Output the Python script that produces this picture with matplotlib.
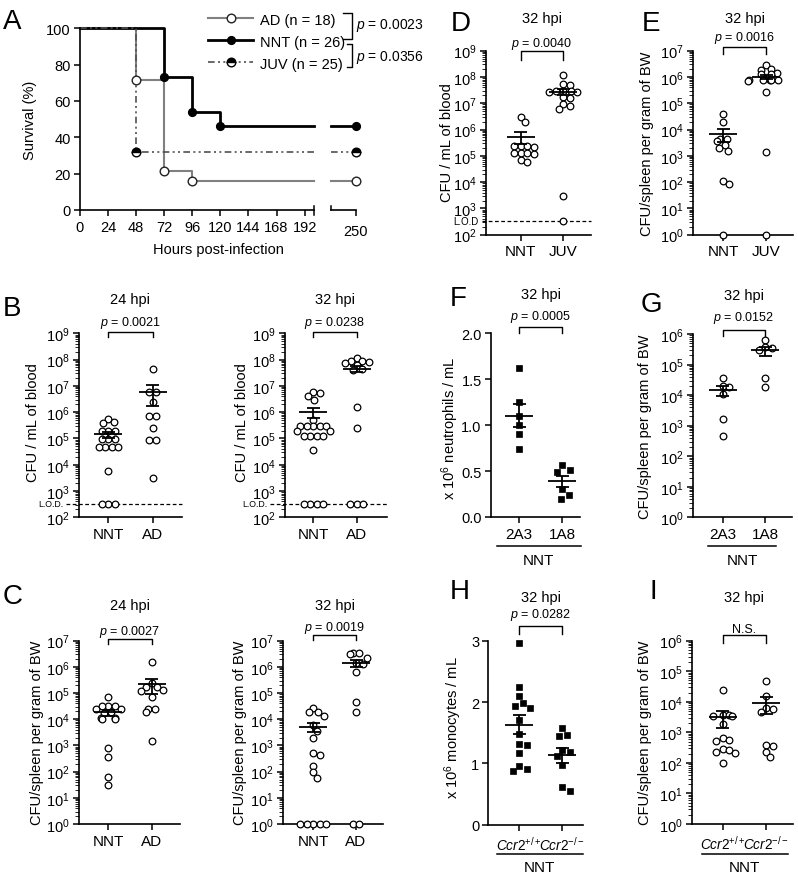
import numpy as np
import matplotlib
matplotlib.use('Agg')
import matplotlib.pyplot as plt
from matplotlib.transforms import blended_transform_factory, Affine2D
from matplotlib.lines import Line2D
from matplotlib.ticker import FixedLocator, FuncFormatter, LogLocator, NullFormatter

plt.rcParams['font.family'] = ['Liberation Sans', 'DejaVu Sans']
plt.rcParams['mathtext.fontset'] = 'custom'
plt.rcParams['mathtext.rm'] = 'Liberation Sans'
plt.rcParams['mathtext.it'] = 'Liberation Sans:italic'
plt.rcParams['mathtext.bf'] = 'Liberation Sans:bold'
plt.rcParams['mathtext.default'] = 'regular'

# ------------------------------------------------------------------ data
# Panel A : Kaplan-Meier survival (%)
surv_labels = ['AD (n = 18)', 'NNT (n = 26)', 'JUV (n = 25)']
surv_t_AD = [0, 48, 72, 96]
surv_AD = [100, 71.4, 21.4, 15.9]
surv_t_NNT = [0, 72, 96, 120]
surv_NNT = [100, 73.1, 53.8, 46.2]
surv_t_JUV = [0, 48]
surv_JUV = [100, 32.0]
surv_end = 250
surv_xticks = [0, 24, 48, 72, 96, 120, 144, 168, 192]
surv_yticks = [0, 20, 40, 60, 80, 100]
surv_p = ['0.0023', '0.0356']

LOD_EXP = 2.52  # log10 of limit of detection (CFU/mL)

# log10 CFU values (B, C, D, E, G, I); 0 = no CFU recovered (plotted at 10^0)
B24_NNT = [5.75, 5.61, 5.60, 5.28, 5.28, 5.28, 4.99, 4.99, 4.99, 4.66, 4.66,
           4.66, 4.66, 3.77, LOD_EXP, LOD_EXP, LOD_EXP]
B24_AD = [7.65, 6.78, 6.78, 6.38, 5.87, 5.87, 5.40, 4.95, 4.95, 3.48]
B32_NNT = [6.76, 6.73, 6.61, 6.47, 5.72, 5.49, 5.49, 5.49, 5.49, 5.49, 5.28,
           5.28, 5.09, 5.09, 5.09, 5.09, 4.57, LOD_EXP, LOD_EXP, LOD_EXP, LOD_EXP]
B32_AD = [8.06, 7.94, 7.94, 7.90, 7.86, 7.80, 7.65, 7.60, 6.19, 5.40,
          LOD_EXP, LOD_EXP, LOD_EXP]
C24_NNT = [4.86, 4.49, 4.49, 4.49, 4.40, 4.38, 4.26, 4.22, 4.04, 4.04, 4.00,
           4.00, 2.89, 2.57, 1.78, 1.50]
C24_AD = [6.17, 5.37, 5.22, 5.22, 5.12, 5.09, 4.84, 4.39, 4.39, 4.29, 3.18]
C32_NNT = [4.43, 4.26, 4.26, 4.14, 3.78, 3.56, 3.27, 2.71, 2.65, 2.23, 1.97,
           1.75, 0, 0, 0, 0, 0]
C32_AD = [6.53, 6.53, 6.49, 6.34, 6.15, 6.11, 5.82, 4.67, 4.29, 0, 0]
D_NNT = [6.47, 6.28, 5.38, 5.36, 5.36, 5.34, 5.12, 5.10, 5.10, 5.08, 4.86, 4.78]
D_JUV = [8.07, 7.73, 7.69, 7.47, 7.45, 7.45, 7.42, 7.42, 7.22, 7.20, 6.97,
         6.90, 6.80, 3.47, LOD_EXP]
E_NNT = [4.59, 4.30, 3.64, 3.64, 3.58, 3.40, 3.30, 3.18, 2.03, 1.93, 0]
E_JUV = [6.45, 6.30, 6.28, 6.15, 6.11, 6.11, 5.90, 5.90, 5.88, 5.88, 5.88,
         5.86, 5.42, 3.16, 0]
G_2A3 = [4.57, 4.31, 4.25, 4.04, 3.22, 2.65]
G_1A8 = [5.81, 5.59, 5.55, 5.49, 4.56, 4.28]
I_WT = [4.39, 3.58, 3.56, 3.55, 3.55, 3.28, 2.80, 2.75, 2.72, 2.45, 2.42,
        2.37, 2.33, 2.00]
I_KO = [4.67, 4.20, 3.80, 3.75, 3.68, 2.60, 2.55, 2.37, 2.20]
# linear values (x 10^6 cells / mL)
F_2A3 = [1.62, 1.25, 1.10, 1.00, 0.90, 0.74]
F_1A8 = [0.57, 0.515, 0.49, 0.31, 0.24, 0.196]
H_WT = [2.96, 2.24, 2.10, 1.98, 1.93, 1.91, 1.71, 1.48, 1.32, 1.30, 1.17,
        0.96, 0.91, 0.88]
H_KO = [1.58, 1.47, 1.45, 1.22, 1.18, 1.12, 0.98, 0.61, 0.55]

cats_NNT_AD = ['NNT', 'AD']
cats_NNT_JUV = ['NNT', 'JUV']
cats_ab = ['2A3', '1A8']
cats_ccr2 = [r'$\mathit{Ccr2^{+/+}}$', r'$\mathit{Ccr2^{-/-}}$']

# ------------------------------------------------------------------ figure
W, H = 798, 878
DPI = 100
fig = plt.figure(figsize=(W / DPI, H / DPI), dpi=DPI)
PX = Affine2D().scale(1, -1).translate(0, H)   # figure pixels (y from top)


def T_dpx(ax):
    return blended_transform_factory(ax.transData, PX)


def T_pxd(ax):
    return blended_transform_factory(PX, ax.transData)


def ftext(x, y, s, **kw):
    return fig.text(x / W, 1 - y / H, s, **kw)


def fline(xs, ys, **kw):
    fig.add_artist(Line2D(np.array(xs) / W, 1 - np.array(ys) / H,
                          transform=fig.transFigure, **kw))


def add_ax(left, right, top, bottom):
    return fig.add_axes([left / W, 1 - bottom / H, (right - left) / W, (bottom - top) / H])


def style(ax):
    for s in ['top', 'right']:
        ax.spines[s].set_visible(False)
    for s in ['left', 'bottom']:
        ax.spines[s].set_linewidth(1.2)
    ax.tick_params(axis='both', which='major', length=4, width=1.1,
                   labelsize=10.5, pad=2.5, direction='out')
    ax.tick_params(axis='y', which='minor', length=2.8, width=0.6)
    ax.patch.set_visible(False)


def swarm(ax, center, vals, mind):
    vals = np.asarray(vals, float)
    pts = ax.transData.transform(np.column_stack([np.full(len(vals), center), vals]))
    ys = pts[:, 1]
    ppu = ax.transData.transform((center + 1, vals[0]))[0] - pts[0, 0]
    order = np.argsort(-ys, kind='stable')
    cand = [0.0]
    for k in range(1, 400):
        cand += [k * 0.25, -k * 0.25]
    placed = []
    offs = np.zeros(len(vals))
    for i in order:
        for c in cand:
            if all((c - po) ** 2 + (ys[i] - py) ** 2 >= mind ** 2 for po, py in placed):
                offs[i] = c
                break
        placed.append((offs[i], ys[i]))
    # recentre rows of identical values
    for v in np.unique(vals):
        m = vals == v
        if m.sum() > 1:
            offs[m] -= offs[m].mean()
    return center + offs / ppu


def scatter_panel(box, cats, log, ylim, groups, labels, marker, title, title_y,
                  ptxt, p_y, br, ylabel, ylab_xy, mind=6.5, ms=4.8, filled=False,
                  lod=None, yticks=None, yfmt=None, under=None, xlab_fs=11):
    left, right, top, bottom = box
    c1, c2 = cats
    sp = c2 - c1
    ax = add_ax(left, right, top, bottom)
    style(ax)
    ax.set_xlim(1 - (c1 - left) / sp, 2 + (right - c2) / sp)
    if log:
        ax.set_yscale('log')
        ax.set_ylim(10.0 ** ylim[0], 10.0 ** ylim[1])
        ax.yaxis.set_major_locator(FixedLocator(10.0 ** np.arange(ylim[0], ylim[1] + 1)))
        ax.yaxis.set_major_formatter(FuncFormatter(
            lambda v, p: r'$10^{%d}$' % int(round(np.log10(v)))))
        ax.yaxis.set_minor_locator(LogLocator(base=10, subs=np.arange(2, 10), numticks=100))
        ax.yaxis.set_minor_formatter(NullFormatter())
    else:
        ax.set_ylim(*ylim)
        ax.set_yticks(yticks)
        ax.yaxis.set_major_formatter(FuncFormatter(yfmt))
    ax.set_xticks([1, 2])
    ax.set_xticklabels(labels, fontsize=xlab_fs)
    ax.tick_params(axis='x', pad=3)
    for k, g in enumerate(groups):
        vals = 10.0 ** np.asarray(g) if log else np.asarray(g, float)
        xs = swarm(ax, k + 1, vals, mind)
        if filled:
            ax.plot(xs, vals, ls='none', marker=marker, ms=ms, mfc='k', mec='k',
                    mew=0.5, clip_on=False, zorder=3)
        else:
            ax.plot(xs, vals, ls='none', marker=marker, ms=ms, mfc='white', mec='k',
                    mew=0.9, clip_on=False, zorder=3)
        m = vals.mean()
        s = vals.std(ddof=1) / np.sqrt(len(vals))
        hm, hc = 14.0 / sp, 6.5 / sp
        x = k + 1
        kw = dict(color='k', lw=1.3, zorder=4, solid_capstyle='butt')
        ax.plot([x - hm, x + hm], [m, m], **kw)
        ax.plot([x, x], [m - s, m + s], **kw)
        ax.plot([x - hc, x + hc], [m + s, m + s], **kw)
        ax.plot([x - hc, x + hc], [m - s, m - s], **kw)
    if lod is not None:
        x_start, txt, txt_right, fs = lod
        lv = 10.0 ** LOD_EXP
        ax.plot([x_start, right], [lv, lv], color='k', lw=0.9, ls=(0, (3, 2)),
                transform=T_pxd(ax), clip_on=False, zorder=2)
        ax.text(txt_right, lv, txt, transform=T_pxd(ax), ha='right', va='center',
                fontsize=fs)
    # title, bracket, p value
    T = T_dpx(ax)
    ax.text(1.5, title_y, title, transform=T, ha='center', va='center', fontsize=10.5)
    bt, bb = br
    ax.plot([1, 1, 2, 2], [bb, bt, bt, bb], color='k', lw=1.0, transform=T, clip_on=False)
    ax.text(1.5, p_y, ptxt, transform=T, ha='center', va='center', fontsize=9)
    ftext(ylab_xy[0], ylab_xy[1], ylabel, rotation=90, ha='center', va='center',
          fontsize=10.5)
    if under is not None:
        ux0, ux1, uy, ty = under
        fline([ux0, ux1], [uy, uy], color='k', lw=1.1)
        ftext((ux0 + ux1) / 2, ty, 'NNT', ha='center', va='center', fontsize=11)
    return ax


def ptext(v):
    return r'$\mathit{p}$ = ' + v


# ------------------------------------------------------------------ Panel A
ax1 = add_ax(80, 314, 29.3, 211)
ax2 = add_ax(331, 356, 29.3, 211)
for a in (ax1, ax2):
    style(a)
    a.set_ylim(0, 100)
ax1.set_xlim(0, 200)
ax2.set_xlim(228.6, 250)
ax1.set_xticks(surv_xticks)
ax1.set_yticks(surv_yticks)
ax1.tick_params(axis='x', pad=3)
ax2.spines['left'].set_visible(False)
ax2.set_yticks([])
ax2.set_xticks([surv_end])
ax2.tick_params(axis='x', pad=6)
# break marks
ax1.plot([200, 200], [206.5, 215.5], color='k', lw=1.1, transform=T_dpx(ax1), clip_on=False)
ax2.plot([228.6, 228.6], [206.5, 211], color='k', lw=1.1, transform=T_dpx(ax2), clip_on=False)

juv_ls = (0, (4, 2, 1.2, 2, 1.2, 2))
styles = [
    dict(color='#808080', lw=1.5, ls='-'),
    dict(color='k', lw=2.0, ls='-'),
    dict(color='#505050', lw=1.2, ls=juv_ls),
]
mstyles = [
    dict(marker='o', ms=6.2, mfc='white', mec='#222222', mew=1.0),
    dict(marker='o', ms=5.6, mfc='k', mec='k', mew=1.0),
    dict(marker='o', ms=6.2, mfc='k', mfcalt='white', mec='k', mew=1.0, fillstyle='top'),
]
series = [(surv_t_AD, surv_AD), (surv_t_NNT, surv_NNT), (surv_t_JUV, surv_JUV)]
draw_order = [1, 0, 2]
for i in draw_order:
    t, s = series[i]
    tt = list(t) + [200]
    ss = list(s) + [s[-1]]
    ax1.step(tt, ss, where='post', clip_on=False, zorder=2 + i * 0.1, **styles[i])
    ax1.plot(t[1:], s[1:], ls='none', clip_on=False, zorder=3 + i * 0.1, **mstyles[i])
    ax2.plot([228.6, surv_end], [s[-1], s[-1]], clip_on=False, zorder=2, **styles[i])
    ax2.plot([surv_end], [s[-1]], ls='none', clip_on=False, zorder=3, **mstyles[i])

handles = [Line2D([], [], **styles[i], **mstyles[i]) for i in range(3)]
fig.legend(handles, surv_labels, loc='upper left', bbox_to_anchor=(208 / W, 1 - 13.5 / H),
           frameon=False, fontsize=10.5, handlelength=3.1, handletextpad=0.45,
           labelspacing=0.55, borderpad=0, borderaxespad=0)
fline([343, 352, 352, 343], [14, 14, 39.5, 39.5], color='k', lw=1.0)
fline([347, 352, 352, 347], [45, 45, 68.3, 68.3], color='k', lw=1.0)
ftext(356, 25, ptext(surv_p[0]), ha='left', va='center', fontsize=10)
ftext(356, 57, ptext(surv_p[1]), ha='left', va='center', fontsize=10)
ftext(30, 120, 'Survival (%)', rotation=90, ha='center', va='center', fontsize=10.5)
ftext(218, 250, 'Hours post-infection', ha='center', va='center', fontsize=10.5)

# ------------------------------------------------------------------ scatter panels
blood = 'CFU / mL of blood'
spleen = 'CFU/spleen per gram of BW'

scatter_panel((79, 182, 334.3, 518.3), (108.3, 152.7), True, (2, 9), (B24_NNT, B24_AD),
              cats_NNT_AD, 'o', '24 hpi', 300, ptext('0.0021'), 323, (332.7, 337.5),
              blood, (33, 423), lod=(66, 'L.O.D.', 63, 6.3))
scatter_panel((285, 387, 334.3, 518.3), (313.3, 356.7), True, (2, 9), (B32_NNT, B32_AD),
              cats_NNT_AD, 'o', '32 hpi', 300, ptext('0.0238'), 323, (332.7, 337.5),
              blood, (241.7, 423), lod=(270, 'L.O.D.', 267, 6.3))
scatter_panel((79, 180, 641.7, 825), (108.3, 151.7), True, (0, 7), (C24_NNT, C24_AD),
              cats_NNT_AD, 'o', '24 hpi', 606, ptext('0.0027'), 631.7, (640, 644.5),
              spleen, (36.7, 733))
scatter_panel((283, 383, 641.7, 825), (313.3, 356), True, (0, 7), (C32_NNT, C32_AD),
              cats_NNT_AD, 'o', '32 hpi', 606, ptext('0.0019'), 627.7, (636, 640.5),
              spleen, (240, 733))
scatter_panel((486, 590.7, 51.7, 235.7), (520.7, 563.3), True, (2, 9), (D_NNT, D_JUV),
              cats_NNT_JUV, 'o', '32 hpi', 19, ptext('0.0040'), 44, (52.3, 61),
              blood, (446.7, 143), lod=(482, 'L.O.D', 479, 7.0))
scatter_panel((692.7, 793, 51.7, 235.7), (723.3, 766), True, (0, 7), (E_NNT, E_JUV),
              cats_NNT_JUV, 'o', '32 hpi', 19, ptext('0.0016'), 38.3, (47.7, 55),
              spleen, (646.7, 143.7))
scatter_panel((490.7, 580, 334.3, 518), (519.3, 562.3), False, (0, 2), (F_2A3, F_1A8),
              cats_ab, 's', '32 hpi', 295, ptext('0.0005'), 316.7, (327.7, 334.3),
              r'x $10^{6}$ neutrophils / mL', (450, 428), mind=9.0, ms=5.0, filled=True,
              yticks=[0, 0.5, 1.0, 1.5, 2.0], yfmt=lambda v, p: '%.1f' % v,
              under=(496.7, 581, 546.7, 560.7))
scatter_panel((692.7, 791.7, 335, 518.3), (722.7, 765), True, (0, 6), (G_2A3, G_1A8),
              cats_ab, 'o', '32 hpi', 296, ptext('0.0152'), 318.3, (331, 337.3),
              spleen, (645, 426.7), under=(708, 776, 546.7, 560.7))
scatter_panel((488.3, 583, 641.7, 825.7), (519.3, 562.3), False, (0, 3), (H_WT, H_KO),
              cats_ccr2, 's', '32 hpi', 598, ptext('0.0282'), 615, (626.7, 635),
              r'x $10^{6}$ monocytes / mL', (453.3, 728), mind=8.0, ms=4.0, filled=True,
              yticks=[0, 1, 2, 3], yfmt=lambda v, p: '%d' % v,
              under=(496.7, 583, 855, 868.3), xlab_fs=9.8)
scatter_panel((691.7, 793, 641.7, 825), (722.7, 766), True, (0, 6), (I_WT, I_KO),
              cats_ccr2, 'o', '32 hpi', 598, 'N.S.', 630, (636, 644),
              spleen, (645, 733), under=(701.7, 788, 855, 868.3), xlab_fs=9.8)

# ------------------------------------------------------------------ panel letters
for letter, x, y in [('A', 3, 9), ('B', 3, 296), ('C', 3, 584), ('D', 451, 11),
                     ('E', 642, 11), ('F', 450, 286), ('G', 641, 292),
                     ('H', 450, 579), ('I', 650, 579)]:
    ftext(x, y, letter, ha='left', va='top', fontsize=20)

fig.savefig('out.png', dpi=DPI)
